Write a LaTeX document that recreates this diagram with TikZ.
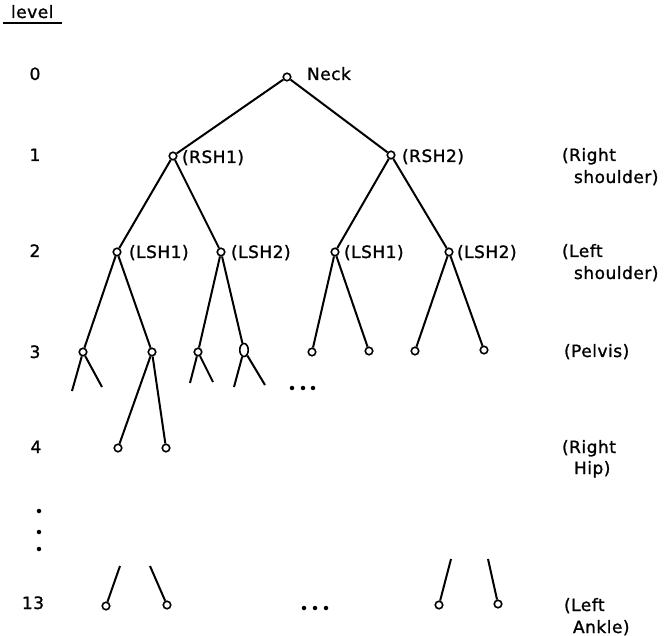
\documentclass[tikz,border=0pt]{standalone}
\usepackage{fontspec}
\setmainfont{DejaVu Sans}[LetterSpace=3,FakeBold=1.2]
\usetikzlibrary{shapes.geometric}
\begin{document}
\begin{tikzpicture}[x=1pt,y=-1pt,line width=2pt,
  jn/.style={circle,draw,line width=1.6pt,minimum size=7.5pt,inner sep=0pt,fill=white},
  ov/.style={ellipse,draw,line width=1.6pt,minimum width=8.5pt,minimum height=13pt,inner sep=0pt,fill=white},
  txt/.style={font=\fontsize{17}{20}\selectfont,inner sep=0pt,anchor=base west},
  lvtxt/.style={font=\fontsize{17}{20}\selectfont,inner sep=0pt,anchor=base},
  dot/.style={circle,fill,inner sep=0pt,minimum size=4.5pt}]
\useasboundingbox (0,0) rectangle (667,636);

% tree nodes
\node[jn] (neck) at (287,77) {};
\node[jn] (rsh1) at (173,156) {};
\node[jn] (rsh2) at (391,155) {};
\node[jn] (a1) at (117,252) {};
\node[jn] (a2) at (221,252) {};
\node[jn] (a3) at (335,252) {};
\node[jn] (a4) at (449,252) {};
\node[jn] (b1) at (83,352) {};
\node[jn] (b2) at (152,352) {};
\node[jn] (b3) at (198,352) {};
\node[ov] (b4) at (244,350) {};
\node[jn] (b5) at (312,352) {};
\node[jn] (b6) at (369,351) {};
\node[jn] (b7) at (415,351) {};
\node[jn] (b8) at (484,350) {};
\node[jn] (c1) at (118,448) {};
\node[jn] (c2) at (166,448) {};
\node[jn] (d1) at (106,606) {};
\node[jn] (d2) at (167,605) {};
\node[jn] (d3) at (439,605) {};
\node[jn] (d4) at (498,604) {};

% stub ends
\coordinate (s1) at (72,391);
\coordinate (s2) at (102,387);
\coordinate (s3) at (190,383);
\coordinate (s4) at (213,382);
\coordinate (s5) at (234,387);
\coordinate (s6) at (265,385);
\coordinate (t1) at (120,566);
\coordinate (t2) at (150,566);
\coordinate (t3) at (451,559);
\coordinate (t4) at (488,559);

% connectors
\draw (neck) -- (rsh1);
\draw (neck) -- (rsh2);
\draw (rsh1) -- (a1);
\draw (rsh1) -- (a2);
\draw (rsh2) -- (a3);
\draw (rsh2) -- (a4);
\draw (a1) -- (b1);
\draw (a1) -- (b2);
\draw (a2) -- (b3);
\draw (a2) -- (b4);
\draw (a3) -- (b5);
\draw (a3) -- (b6);
\draw (a4) -- (b7);
\draw (a4) -- (b8);
\draw (b2) -- (c1);
\draw (b2) -- (c2);
\draw (b1) -- (s1);
\draw (b1) -- (s2);
\draw (b3) -- (s3);
\draw (b3) -- (s4);
\draw (b4) -- (s5);
\draw (b4) -- (s6);
\draw (t1) -- (d1);
\draw (t2) -- (d2);
\draw (t3) -- (d3);
\draw (t4) -- (d4);

% ellipsis dots
\node[dot] (e1) at (292,388) {};
\node[dot] (e2) at (303,388) {};
\node[dot] (e3) at (313,388) {};
\node[dot] (f1) at (304,608) {};
\node[dot] (f2) at (315,608) {};
\node[dot] (f3) at (326,608) {};
\node[dot] (v1) at (39,511) {};
\node[dot] (v2) at (39,532) {};
\node[dot] (v3) at (39,549) {};

% header
\node[txt] (lvl) at (10,18) {level};
\draw[line width=2pt] (3,23) -- (62,23);

% level numbers
\node[lvtxt] (l0) at (35,80) {0};
\node[lvtxt] (l1) at (35,161) {1};
\node[lvtxt] (l2) at (35,257) {2};
\node[lvtxt] (l3) at (35,358) {3};
\node[lvtxt] (l4) at (36,453) {4};
\node[lvtxt] (l13) at (33,609) {13};

% node labels
\node[txt] (tneck) at (306,80) {Neck};
\node[txt] (trsh1) at (181,163) {(RSH1)};
\node[txt] (trsh2) at (401,162) {(RSH2)};
\node[txt] (ta1) at (128,258) {(LSH1)};
\node[txt] (ta2) at (230,258) {(LSH2)};
\node[txt] (ta3) at (343,258) {(LSH1)};
\node[txt] (ta4) at (456,258) {(LSH2)};

% right-hand labels
\node[txt] (r1a) at (561,161) {(Right};
\node[txt] (r1b) at (573,183) {shoulder)};
\node[txt] (r2a) at (561,257) {(Left};
\node[txt] (r2b) at (573,279) {shoulder)};
\node[txt] (r3) at (563,357) {(Pelvis)};
\node[txt] (r4a) at (561,453) {(Right};
\node[txt] (r4b) at (573,474) {Hip)};
\node[txt] (r5a) at (563,611) {(Left};
\node[txt] (r5b) at (572,633) {Ankle)};
\end{tikzpicture}
\end{document}
